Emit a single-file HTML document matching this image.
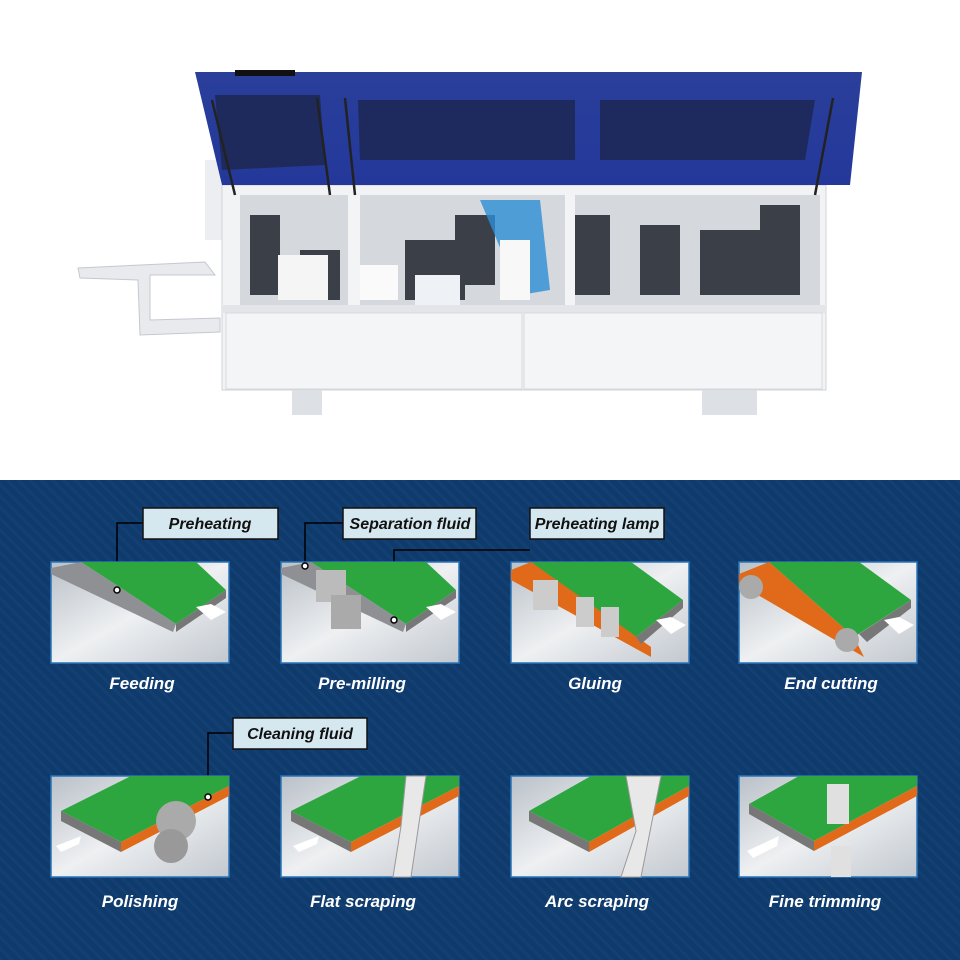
<!DOCTYPE html>
<html><head><meta charset="utf-8"><style>
html,body{margin:0;padding:0;background:#fff}
svg{display:block}
.lbl{font-family:"Liberation Sans",sans-serif;font-weight:bold;font-style:italic;fill:#fff;font-size:17px}
.cl{font-family:"Liberation Sans",sans-serif;font-weight:bold;font-style:italic;fill:#111;font-size:16px}
</style></head><body>
<svg width="960" height="960" viewBox="0 0 960 960" xmlns="http://www.w3.org/2000/svg">
<defs>
<pattern id="st" width="8" height="8" patternUnits="userSpaceOnUse" patternTransform="rotate(-45)">
<rect width="8" height="8" fill="#0e3a6c"/><rect width="3" height="8" fill="#143f72"/></pattern>
<linearGradient id="pg" x1="0" y1="0" x2="1" y2="1"><stop offset="0" stop-color="#b9c0c8"/><stop offset="0.5" stop-color="#eef0f2"/><stop offset="1" stop-color="#c2c8cf"/></linearGradient>
<linearGradient id="lid" x1="0" y1="0" x2="0" y2="1"><stop offset="0" stop-color="#2a3f9a"/><stop offset="1" stop-color="#23389a"/></linearGradient>
</defs>
<rect width="960" height="480" fill="#fff"/>
<rect y="480" width="960" height="480" fill="url(#st)"/>

<!-- machine -->
<polygon points="78,268 205,262 215,275 150,275 150,320 220,318 220,332 140,335 138,280 80,278" fill="#e8eaee" stroke="#c4c8cf"/>
<rect x="205" y="160" width="22" height="80" fill="#eceef1"/>
<rect x="222" y="185" width="604" height="205" fill="#f2f3f5" stroke="#d0d3d8"/>
<rect x="240" y="195" width="580" height="110" fill="#d5d8dd"/>
<g fill="#3b3f48">
<rect x="250" y="215" width="30" height="80"/><rect x="300" y="250" width="40" height="50"/><rect x="405" y="240" width="60" height="60"/>
<rect x="455" y="215" width="40" height="70"/><rect x="570" y="215" width="40" height="80"/><rect x="640" y="225" width="40" height="70"/>
<rect x="700" y="230" width="60" height="65"/><rect x="760" y="205" width="40" height="90"/></g>
<rect x="278" y="255" width="50" height="45" fill="#f5f5f5"/><rect x="360" y="265" width="38" height="35" fill="#fafafa"/>
<rect x="415" y="275" width="45" height="30" fill="#eef1f5"/>
<polygon points="480,200 540,200 550,290 520,295" fill="#2d8fd6" opacity="0.8"/>
<rect x="500" y="240" width="30" height="60" fill="#f8f8f8"/>
<rect x="348" y="195" width="12" height="110" fill="#f3f4f6"/><rect x="565" y="195" width="10" height="110" fill="#f3f4f6"/>
<rect x="222" y="305" width="604" height="8" fill="#e3e5e9"/>
<rect x="226" y="313" width="296" height="76" fill="#f4f5f7" stroke="#d6d9de"/>
<rect x="524" y="313" width="298" height="76" fill="#f4f5f7" stroke="#d6d9de"/>
<rect x="292" y="390" width="30" height="25" fill="#dde0e4"/><rect x="702" y="390" width="55" height="25" fill="#dde0e4"/>
<polygon points="195,72 862,72 850,185 222,185" fill="url(#lid)"/>
<polygon points="215,95 320,95 325,165 222,170" fill="#1f2a5c"/>
<polygon points="358,100 575,100 575,160 360,160" fill="#1e2a5e"/>
<polygon points="600,100 815,100 805,160 600,160" fill="#1e2a5e"/>
<rect x="235" y="70" width="60" height="6" fill="#111"/>
<g stroke="#222" stroke-width="2.5"><line x1="212" y1="100" x2="235" y2="195"/><line x1="317" y1="98" x2="330" y2="195"/><line x1="345" y1="98" x2="355" y2="195"/><line x1="833" y1="98" x2="815" y2="195"/></g>

<!-- callouts -->
<g stroke="#000" stroke-width="1.5" fill="none">
<polyline points="143,523 117,523 117,590"/><polyline points="343,523 305,523 305,566"/>
<polyline points="530,550 394,550 394,620"/><polyline points="233,733 208,733 208,797"/>
</g>
<g fill="#d6e8ef" stroke="#111" stroke-width="1.5">
<rect x="143" y="508" width="135" height="31"/><rect x="343" y="508" width="133" height="31"/>
<rect x="530" y="508" width="134" height="31"/><rect x="233" y="718" width="134" height="31"/></g>
<text class="cl" x="210" y="529" text-anchor="middle">Preheating</text>
<text class="cl" x="410" y="529" text-anchor="middle">Separation fluid</text>
<text class="cl" x="597" y="529" text-anchor="middle">Preheating lamp</text>
<text class="cl" x="300" y="739" text-anchor="middle">Cleaning fluid</text>

<!-- panels row 1 -->
<g id="p1" transform="translate(51,562)">
<rect width="178" height="101" fill="url(#pg)" stroke="#2a74b8" stroke-width="1.5"/>
<polygon points="30,0 145,0 175,28 125,62" fill="#2ea640"/>
<polygon points="0,6 30,0 125,62 122,70 0,12" fill="#8e9094"/>
<polygon points="125,62 175,28 175,36 125,70" fill="#777"/>
<polygon points="145,45 160,42 175,50 160,58" fill="#fff"/>
</g>
<g transform="translate(281,562)">
<rect width="178" height="101" fill="url(#pg)" stroke="#2a74b8" stroke-width="1.5"/>
<polygon points="30,0 145,0 175,28 125,62" fill="#2ea640"/>
<polygon points="0,6 30,0 125,62 122,70 0,12" fill="#8e9094"/>
<polygon points="125,62 175,28 175,36 125,70" fill="#777"/>
<rect x="35" y="8" width="30" height="32" fill="#bbb"/><rect x="50" y="33" width="30" height="34" fill="#aaa"/>
<polygon points="145,45 160,42 175,50 160,58" fill="#fff"/>
</g>
<g transform="translate(511,562)">
<rect width="178" height="101" fill="url(#pg)" stroke="#2a74b8" stroke-width="1.5"/>
<polygon points="20,0 120,0 172,38 125,75 60,30" fill="#2ea640"/>
<polygon points="0,8 20,0 140,85 140,95 0,18" fill="#e06a1a"/>
<polygon points="125,75 172,38 172,46 130,82" fill="#777"/>
<rect x="22" y="18" width="25" height="30" fill="#ccc"/><rect x="65" y="35" width="18" height="30" fill="#ccc"/><rect x="90" y="45" width="18" height="30" fill="#ccc"/>
<polygon points="145,58 160,55 175,63 160,72" fill="#fff"/>
</g>
<g transform="translate(739,562)">
<rect width="178" height="101" fill="url(#pg)" stroke="#2a74b8" stroke-width="1.5"/>
<polygon points="30,0 120,0 172,38 115,75" fill="#2ea640"/>
<polygon points="0,12 30,0 115,75 125,95 0,22" fill="#e06a1a"/>
<polygon points="120,72 172,38 172,46 128,80" fill="#777"/>
<circle cx="12" cy="25" r="12" fill="#aaa"/><circle cx="108" cy="78" r="12" fill="#aaa"/>
<polygon points="145,58 160,55 175,63 160,72" fill="#fff"/>
</g>
<!-- row 2 -->
<g transform="translate(51,776)">
<rect width="178" height="101" fill="url(#pg)" stroke="#2a74b8" stroke-width="1.5"/>
<polygon points="10,35 80,0 178,0 178,10 70,66" fill="#2ea640"/>
<polygon points="10,35 70,66 70,76 10,45" fill="#777"/>
<polygon points="70,66 178,10 178,20 70,76" fill="#e06a1a"/>
<circle cx="125" cy="45" r="20" fill="#aaa"/><circle cx="120" cy="70" r="17" fill="#999"/>
<polygon points="5,70 30,60 28,68 10,76" fill="#fff"/>
</g>
<g transform="translate(281,776)">
<rect width="178" height="101" fill="url(#pg)" stroke="#2a74b8" stroke-width="1.5"/>
<polygon points="10,35 80,0 178,0 178,10 70,66" fill="#2ea640"/>
<polygon points="10,35 70,66 70,76 10,45" fill="#777"/>
<polygon points="70,66 178,10 178,20 70,76" fill="#e06a1a"/>
<polygon points="125,0 145,0 130,101 112,101 120,50" fill="#e8e8e8" stroke="#999"/>
<polygon points="12,70 38,60 36,68 18,76" fill="#fff"/>
</g>
<g transform="translate(511,776)">
<rect width="178" height="101" fill="url(#pg)" stroke="#2a74b8" stroke-width="1.5"/>
<polygon points="18,35 80,0 178,0 178,10 78,66" fill="#2ea640"/>
<polygon points="18,35 78,66 78,76 18,45" fill="#777"/>
<polygon points="78,66 178,10 178,20 78,76" fill="#e06a1a"/>
<polygon points="115,0 150,0 130,101 110,101 125,55" fill="#e8e8e8" stroke="#999"/>
</g>
<g transform="translate(739,776)">
<rect width="178" height="101" fill="url(#pg)" stroke="#2a74b8" stroke-width="1.5"/>
<polygon points="10,28 60,0 178,0 178,10 75,65" fill="#2ea640"/>
<polygon points="10,28 75,65 75,75 10,38" fill="#777"/>
<polygon points="75,65 178,10 178,20 75,75" fill="#e06a1a"/>
<rect x="88" y="8" width="22" height="40" fill="#e0e0e0"/><rect x="92" y="70" width="20" height="31" fill="#e0e0e0"/>
<polygon points="8,75 40,60 38,70 14,82" fill="#fff"/>
</g>

<text class="lbl" x="142" y="689" text-anchor="middle">Feeding</text>
<text class="lbl" x="362" y="689" text-anchor="middle">Pre-milling</text>
<text class="lbl" x="595" y="689" text-anchor="middle">Gluing</text>
<text class="lbl" x="831" y="689" text-anchor="middle">End cutting</text>
<text class="lbl" x="140" y="907" text-anchor="middle">Polishing</text>
<text class="lbl" x="363" y="907" text-anchor="middle">Flat scraping</text>
<text class="lbl" x="597" y="907" text-anchor="middle">Arc  scraping</text>
<text class="lbl" x="825" y="907" text-anchor="middle">Fine trimming</text>
<g fill="#fff" stroke="#000" stroke-width="1.5">
<circle cx="117" cy="590" r="3"/><circle cx="305" cy="566" r="3"/><circle cx="394" cy="620" r="3"/><circle cx="208" cy="797" r="3"/></g>
</svg>
</body></html>
